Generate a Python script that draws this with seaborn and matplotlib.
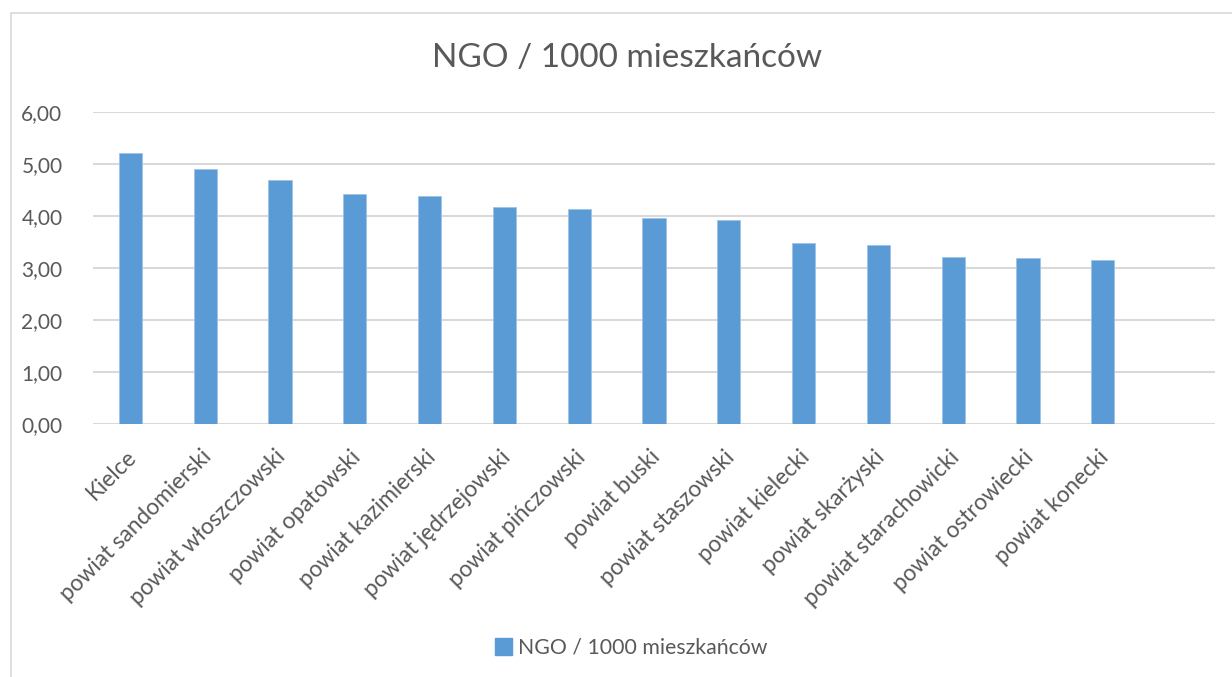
import matplotlib
matplotlib.use("Agg")
import matplotlib.pyplot as plt
import matplotlib.transforms as mtransforms
import seaborn as sns
from matplotlib.patches import Patch, Rectangle

categories = ["Kielce", "powiat sandomierski", "powiat włoszczowski", "powiat opatowski",
              "powiat kazimierski", "powiat jędrzejowski", "powiat pińczowski", "powiat buski",
              "powiat staszowski", "powiat kielecki", "powiat skarżyski", "powiat starachowicki",
              "powiat ostrowiecki", "powiat konecki"]
values = [5.21, 4.90, 4.69, 4.42, 4.38, 4.18, 4.13, 3.97, 3.92, 3.49, 3.44, 3.21, 3.19, 3.15]
yticks = [0, 1, 2, 3, 4, 5, 6]
ytick_labels = ["0,00", "1,00", "2,00", "3,00", "4,00", "5,00", "6,00"]
title = "NGO / 1000 mieszkańców"
series_name = "NGO / 1000 mieszkańców"

BAR = "#5B9BD5"
GRID = "#D9D9D9"
TXT = "#595959"

sns.set_theme(style="white")
plt.rcParams["font.family"] = ["Lato", "DejaVu Sans"]

fig = plt.figure(figsize=(12.32, 6.77), dpi=100)
ax = fig.add_axes([93/1232, 1-424/677, (1215-93)/1232, (424-112.3)/677])

sns.barplot(x=categories, y=values, color=BAR, width=0.31, ax=ax, saturation=1,
            edgecolor="#9DC3E6", linewidth=0.6)
ax.set_xlim(-0.5, 14.5)
ax.set_ylim(0, 6)
ax.set_yticks(yticks)
ax.set_yticklabels(ytick_labels, fontsize=15, color=TXT)
ax.yaxis.grid(True, color=GRID, linewidth=1.5)
ax.set_axisbelow(True)
for s in ax.spines.values():
    s.set_visible(False)
ax.tick_params(axis="both", length=0)
ax.tick_params(axis="y", pad=22)
ax.set_xlabel("")
ax.set_ylabel("")
ax.set_xticks(range(len(categories)))
ax.set_xticklabels(categories, rotation=45, ha="right", va="top",
                   rotation_mode="anchor", fontsize=16.3, color=TXT)
ax.tick_params(axis="x", pad=16)
shift = mtransforms.ScaledTranslation(-5/100, 0, fig.dpi_scale_trans)
for lbl in ax.get_xticklabels():
    lbl.set_transform(lbl.get_transform() + shift)

fig.text(627/1232, 1-58/677, title, ha="center", va="center", fontsize=24, color=TXT)

fig.legend(handles=[Patch(facecolor=BAR, edgecolor=BAR, label=series_name)],
           loc="center", bbox_to_anchor=(631/1232, 1-648/677), frameon=False,
           fontsize=15.3, handlelength=0.8, handleheight=0.8, handletextpad=0.3,
           labelcolor=TXT)

fig.patches.append(Rectangle((10.5/1232, -0.1), 1.2, 1.1 - 13/677, transform=fig.transFigure,
                             fill=False, edgecolor=GRID, linewidth=1.2, zorder=0))

fig.savefig("out.png", dpi=100, facecolor="white")
